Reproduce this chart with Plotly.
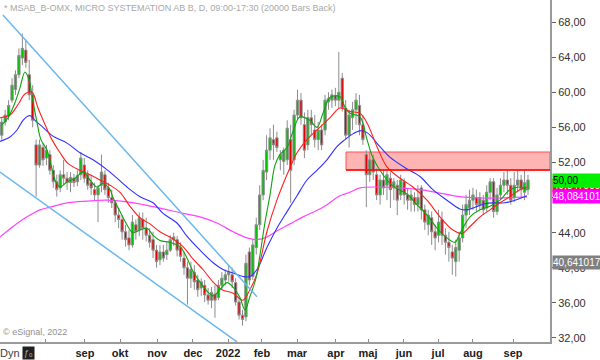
import plotly.graph_objects as go

# ---- candle data (one candle per ~2 trading days), prices in SEK ----
opens = [55.1,56.6,57.3,59.1,60.3,62.0,63.9,64.8,62.0,59.7,
         54.0,51.7,53.7,52.5,52.9,51.1,49.8,49.1,50.6,50.2,
         49.7,50.2,49.8,50.6,51.7,50.6,49.7,48.9,48.3,49.4,
         50.6,49.1,48.0,47.4,46.0,45.5,44.1,43.4,42.6,44.9,
         44.3,45.5,44.5,43.7,43.2,42.0,40.9,41.8,41.5,42.0,
         43.2,43.2,42.3,41.1,40.0,38.8,39.5,38.6,37.7,38.0,
         36.9,36.3,37.0,36.6,38.0,38.6,39.2,39.2,38.3,36.1,
         34.6,34.4,41.8,39.0,42.3,44.9,48.3,50.9,53.4,54.6,
         54.8,52.3,52.1,52.3,54.6,52.3,57.4,59.1,56.3,54.0,
         57.1,55.7,54.6,55.7,55.7,58.9,59.1,59.6,59.1,61.6,
         58.2,55.1,57.1,58.0,58.5,56.3,52.9,50.6,52.3,50.6,
         48.3,50.0,49.4,50.2,49.1,49.4,48.3,49.8,48.3,47.7,
         48.0,47.2,49.1,46.6,44.9,45.7,44.1,43.7,45.5,43.7,
         42.9,41.8,40.7,42.0,43.4,46.0,46.8,47.7,48.0,47.2,
         47.7,46.8,48.6,49.8,46.4,48.3,49.4,50.0,49.4,48.0,
         49.4,50.0,48.6,48.9]
closes = [56.6,57.4,58.5,60.8,62.0,64.2,65.0,63.4,59.7,56.8,
          51.7,54.0,52.3,53.4,51.1,49.8,48.9,50.6,50.2,49.7,
          50.3,49.7,50.5,52.5,50.2,49.4,49.1,48.3,49.1,50.9,
          48.9,48.0,47.4,46.0,45.5,44.1,43.2,42.6,45.2,44.1,
          45.7,44.5,43.7,42.9,42.0,40.7,41.8,41.1,42.0,43.2,
          43.5,42.0,41.3,40.0,38.8,39.8,38.4,37.5,38.4,36.9,
          36.3,37.2,36.3,38.0,38.8,39.2,39.5,38.4,36.1,34.6,
          34.1,40.5,38.6,42.6,44.9,48.3,51.1,53.4,54.8,54.0,
          53.7,52.9,53.4,55.9,51.1,57.4,59.1,57.1,53.4,57.1,
          56.3,54.6,55.7,54.0,59.1,59.3,59.7,59.1,60.0,58.2,
          55.1,57.4,58.0,59.1,56.3,54.6,50.6,52.3,50.9,48.3,
          50.0,49.1,50.6,48.9,49.8,47.7,50.0,48.3,47.7,48.3,
          47.2,48.0,46.6,45.2,46.0,44.1,43.4,45.2,43.7,42.9,
          42.3,41.1,42.3,43.4,46.0,47.2,47.7,48.3,47.2,48.0,
          46.6,48.6,49.8,46.4,48.3,49.4,50.0,49.4,47.7,49.4,
          50.0,48.9,49.7,50.0]
highs = [57.1,58.0,59.1,61.6,62.5,65.0,66.7,66.0,63.7,60.8,
         54.6,54.6,54.2,54.0,53.4,51.7,50.6,51.1,52.3,50.9,
         50.9,50.7,51.1,53.2,52.5,51.1,50.6,49.7,49.4,52.9,
         51.1,49.7,48.9,47.7,46.8,46.0,44.9,44.3,46.0,45.5,
         46.3,46.3,45.7,44.5,44.1,42.6,42.6,42.6,42.9,43.7,
         44.0,43.6,42.9,41.8,40.7,40.7,40.3,39.2,38.8,38.6,
         37.7,37.8,38.0,38.6,39.5,39.8,40.3,40.0,38.8,36.6,
         35.2,41.5,42.3,43.2,45.7,49.4,52.3,55.1,55.9,56.3,
         55.5,53.4,53.7,56.8,56.3,58.0,60.3,59.9,57.7,58.0,
         58.0,57.4,56.6,56.3,59.7,60.0,60.3,60.5,64.6,62.2,
         59.1,58.0,58.9,59.9,59.7,57.4,53.4,53.2,52.9,51.3,
         50.6,51.1,51.1,50.9,50.2,50.0,50.6,50.2,49.1,48.9,
         48.6,49.4,49.4,47.2,46.6,46.4,44.9,46.6,46.4,44.5,
         44.1,42.6,43.2,44.1,47.2,48.3,48.9,49.1,48.9,48.6,
         48.3,49.4,50.2,50.2,49.1,50.2,50.9,51.1,50.2,50.9,
         51.1,50.6,51.1,50.6]
lows = [54.6,56.2,56.8,58.8,59.7,61.6,63.1,62.8,59.1,56.0,
        48.1,51.4,51.6,51.7,50.6,49.1,48.1,48.6,49.4,48.9,
        48.6,49.2,49.3,50.0,49.7,48.9,48.3,47.7,45.2,48.6,
        48.3,47.4,46.8,45.2,44.5,43.2,42.4,42.0,42.3,43.2,
        43.6,43.2,43.0,42.3,41.1,40.0,40.3,40.7,40.9,41.8,
        42.5,41.3,40.7,39.2,35.8,37.7,37.5,36.7,36.8,36.1,
        35.8,35.4,34.3,36.3,37.5,38.0,38.4,37.7,35.7,34.1,
        33.4,33.9,38.0,38.6,41.5,44.3,47.7,50.0,52.3,52.3,
        53.2,51.1,50.6,51.7,47.4,51.7,56.8,56.3,52.5,53.4,
        55.1,53.7,53.4,53.4,55.1,58.0,58.2,58.4,58.2,57.8,
        54.6,53.7,55.7,56.3,55.1,54.0,46.9,49.8,50.0,47.7,
        47.2,48.3,47.7,46.8,47.7,46.0,47.7,47.2,46.6,46.4,
        46.4,46.4,45.5,44.3,43.7,42.6,42.0,42.9,42.6,41.5,
        40.7,39.2,39.0,40.7,42.9,44.5,46.0,46.6,46.4,46.6,
        46.0,46.4,47.7,45.7,46.0,47.7,48.6,48.3,47.2,47.5,
        48.6,48.0,47.7,48.3]
days = list(range(1, 2 * len(closes), 2))   # trading-day index of each candle

# ---- moving averages (day index, price) ----
ma_fast_x = [1.2,4.7,8.7,11.6,14.5,16.9,19.2,21.5,23.8,27.3,29.7,32.0,34.9,39.0,43.6,48.3,52.3,56.4,59.9,64.0,
             65.7,69.8,73.8,77.3,81.4,85.5,89.0,93.0,98.8,104.7,108.7,112.2,118.0,123.8,127.9,132.0,135.5,139.5,
             142.4,145.3,148.8,151.2,154.1,157.0,159.9,162.8,166.9,170.3,174.4,180.2,184.3,187.8,191.9,197.7,
             200.6,203.5,209.3,213.4,216.9,222.7,228.5,236.6,242.4,248.3,254.1,259.9,264.5,267.4,273.3,279.1,
             284.9,290.7,296.5,302.3,306.4]
ma_fast_y = [56.3,57.1,58.8,60.5,62.3,61.4,58.9,56.6,54.6,53.4,51.7,50.0,49.2,49.8,50.2,50.9,50.0,49.2,49.6,48.9,
             48.0,46.4,44.9,44.0,44.3,44.5,43.7,43.1,42.9,42.4,41.1,39.6,37.9,36.8,37.5,38.3,37.8,36.6,
             35.2,36.7,38.8,41.5,45.2,48.3,51.7,52.9,53.7,55.5,57.2,56.8,56.0,57.6,59.4,59.5,
             58.3,57.6,57.2,54.6,52.5,50.6,49.3,48.4,47.2,46.0,44.5,43.4,42.9,43.9,45.8,46.6,
             47.0,47.7,48.9,49.2,48.9]
ma_mid_x = [0,5.8,10.5,14.5,18.6,22.1,26.2,30.2,34.9,39.5,46.5,52.3,58.1,64.0,69.8,75.6,81.4,87.2,93.0,98.8,
            106.4,112.2,118.0,123.8,129.1,135.5,141.3,145.3,149.4,155.2,161.0,168.6,172.7,178.5,184.3,191.9,
            197.7,203.5,209.3,213.4,219.2,225.0,232.6,240.1,248.3,255.8,263.4,268.6,273.3,279.1,284.9,290.7,
            296.5,302.3,306.4]
ma_mid_y = [57.1,57.4,58.6,59.8,60.0,58.2,56.3,54.6,53.1,51.9,51.1,50.6,50.0,49.4,48.6,47.0,45.7,45.0,44.1,43.5,
            42.4,41.0,39.8,38.4,37.5,37.1,36.3,37.5,39.3,44.1,47.7,51.4,53.1,54.6,55.7,57.1,
            58.2,57.8,57.6,56.5,53.8,51.5,50.2,49.2,47.7,45.8,44.3,43.9,44.7,45.8,46.6,47.4,
            48.1,48.9,49.2]
ma_slow_x = [0,5.8,9.9,13.4,16.3,18.0,20.3,25.0,30.8,39.0,46.5,54.1,64.0,73.8,81.4,89.0,94.8,102.9,108.7,116.3,
             123.8,129.7,135.5,141.3,145.3,149.4,155.2,161.0,166.9,172.7,178.5,184.3,190.1,195.9,200.6,204.7,
             209.3,213.4,220.9,226.7,235.5,244.2,251.7,259.9,267.4,271.5,276.2,282.0,287.8,293.6,299.4,306.4]
ma_slow_y = [54.4,54.9,55.7,56.8,57.3,57.3,56.8,56.0,55.0,54.2,53.1,52.3,50.9,49.2,48.1,47.4,46.2,45.1,43.6,42.0,
             40.6,39.8,39.4,39.0,39.0,39.8,42.3,44.5,46.4,48.2,50.0,51.1,52.3,53.8,54.6,55.2,
             55.6,55.4,53.8,52.6,51.4,50.4,48.9,47.7,46.7,46.6,46.9,47.3,47.4,47.4,47.7,48.2]
ma_long_x = [0,7.6,15.7,23.3,29.1,39.0,50.6,62.2,73.8,83.1,93.0,106.4,116.3,126.2,135.5,143.6,149.4,155.2,161.0,
             168.6,176.2,187.8,197.7,203.5,209.3,220.9,232.6,244.2,255.8,267.4,279.1,290.7,306.4]
ma_long_y = [43.5,44.7,45.8,46.6,46.9,47.4,47.6,47.7,47.5,47.2,46.8,46.2,45.8,45.1,44.1,43.4,43.2,43.5,44.2,
             45.0,45.8,46.9,48.2,48.6,49.1,49.2,49.1,48.9,48.5,48.1,47.95,47.95,48.08]

# ---- drawn objects ----
upper_trend_x = [1.7, 149.4]
upper_trend_y = [68.8, 36.7]
lower_trend_x = [0, 137.8]
lower_trend_y = [50.9, 31.55]
zone_start = 201.2
zone_low, zone_high = 51.14, 53.19

# ---- axes ----
month_ticks = [26.2, 49.4, 69.8, 91.3, 112.2, 132.6, 152.3, 172.7, 195.3, 214.0, 234.9, 254.7, 275.0, 298.3]
month_labels = ["", "sep", "okt", "nov", "dec", "2022", "feb", "mar", "apr", "maj", "jun", "jul", "aug", "sep"]
price_ticks = [32, 36, 40, 44, 48, 52, 56, 60, 64, 68]
x_range = [0, 319.8]
y_range = [31.54, 70.51]

# ---- right-hand value labels ----
tag_values = [49.4, 50.0, 48.084101, 40.641017]
tag_texts = ["49,847000", "50,00", "48,084101", "40,641017"]
tag_bg = ["#d02020", "#00f000", "#ff00ff", "#808080"]
tag_fg = ["white", "black", "white", "white"]

FONT = "Arial, Liberation Sans, sans-serif"

fig = go.Figure()

fig.add_shape(type="rect", xref="x", yref="y", x0=zone_start, x1=x_range[1],
              y0=zone_low, y1=zone_high, fillcolor="#ffb4b4",
              line=dict(color="#ff5050", width=1), layer="below")
fig.add_shape(type="line", xref="x", yref="y", x0=zone_start, x1=x_range[1],
              y0=zone_low, y1=zone_low, line=dict(color="#ff0000", width=1.5))

fig.add_trace(go.Scatter(x=ma_long_x, y=ma_long_y, mode="lines", line=dict(color="#ff44ff", width=1.2, shape="spline"), hoverinfo="skip"))
fig.add_trace(go.Scatter(x=ma_slow_x, y=ma_slow_y, mode="lines", line=dict(color="#3030ff", width=1.1, shape="spline"), hoverinfo="skip"))

fig.add_trace(go.Candlestick(
    x=days, open=opens, high=highs, low=lows, close=closes,
    increasing=dict(line=dict(color="#8c8c8c", width=1), fillcolor="#00c000"),
    decreasing=dict(line=dict(color="#8c8c8c", width=1), fillcolor="#e00000"),
    whiskerwidth=0, hoverinfo="skip"))

fig.add_trace(go.Scatter(x=ma_mid_x, y=ma_mid_y, mode="lines", line=dict(color="#ff2020", width=1.1, shape="spline"), hoverinfo="skip"))
fig.add_trace(go.Scatter(x=ma_fast_x, y=ma_fast_y, mode="lines", line=dict(color="#10a010", width=1.1, shape="spline"), hoverinfo="skip"))

fig.add_trace(go.Scatter(x=upper_trend_x, y=upper_trend_y, mode="lines", line=dict(color="#6ab8f0", width=1.5), hoverinfo="skip"))
fig.add_trace(go.Scatter(x=lower_trend_x, y=lower_trend_y, mode="lines", line=dict(color="#6ab8f0", width=1.5), hoverinfo="skip"))

annotations = []
for v, t, bg, fg in zip(tag_values, tag_texts, tag_bg, tag_fg):
    annotations.append(dict(xref="paper", yref="y", x=1, y=v, xanchor="left", yanchor="middle",
                            xshift=2, text=t, showarrow=False, bgcolor=bg, borderpad=0,
                            width=48, height=13, align="left",
                            font=dict(family=FONT, size=10, color=fg)))
annotations += [
    dict(xref="paper", yref="paper", x=0, y=1, xanchor="left", yanchor="top", xshift=2, yshift=-1,
         text="* MSAB_B-OMX, MICRO SYSTEMATION AB B, D, 09:00-17:30 (20000 Bars Back)",
         showarrow=False, font=dict(family=FONT, size=9, color="#a8a8a8")),
    dict(xref="paper", yref="paper", x=0, y=0, xanchor="left", yanchor="bottom", xshift=1, yshift=3,
         text="© eSignal, 2022", showarrow=False, font=dict(family=FONT, size=9, color="#909090")),
    dict(xref="paper", yref="paper", x=0, y=0, xanchor="left", yanchor="top", xshift=-2, yshift=-3,
         text="Dyn", showarrow=False, font=dict(family=FONT, size=11, color="#404040")),
    dict(xref="paper", yref="paper", x=0, y=0, xanchor="left", yanchor="top", xshift=22, yshift=-4,
         text="ƒₒ", showarrow=False, bgcolor="#202020", font=dict(family=FONT, size=9, color="#b0b0b0")),
]

fig.update_layout(
    width=600, height=360,
    margin=dict(l=0, r=50, t=0, b=18),
    paper_bgcolor="white", plot_bgcolor="white",
    showlegend=False, separators=", ", boxgap=0.05,
    annotations=annotations,
    xaxis=dict(range=x_range, rangeslider=dict(visible=False), showgrid=False, zeroline=False,
               tickmode="array", tickvals=month_ticks,
               ticktext=["<b>%s</b>" % m for m in month_labels],
               ticks="inside", ticklen=3, tickcolor="#8c8c8c",
               showline=True, linecolor="#9a9a9a", linewidth=2,
               tickfont=dict(family=FONT, size=11, color="#202020")),
    yaxis=dict(range=y_range, side="right", showgrid=False, zeroline=False,
               tickmode="array", tickvals=price_ticks, tickformat=".2f",
               ticks="outside", ticklen=4, tickcolor="#606060",
               showline=True, linecolor="#9a9a9a", linewidth=2,
               tickfont=dict(family=FONT, size=11, color="#303030")),
)

fig.write_html("out.html", config={"displayModeBar": False},
               post_script="document.body.style.margin='0px';")
